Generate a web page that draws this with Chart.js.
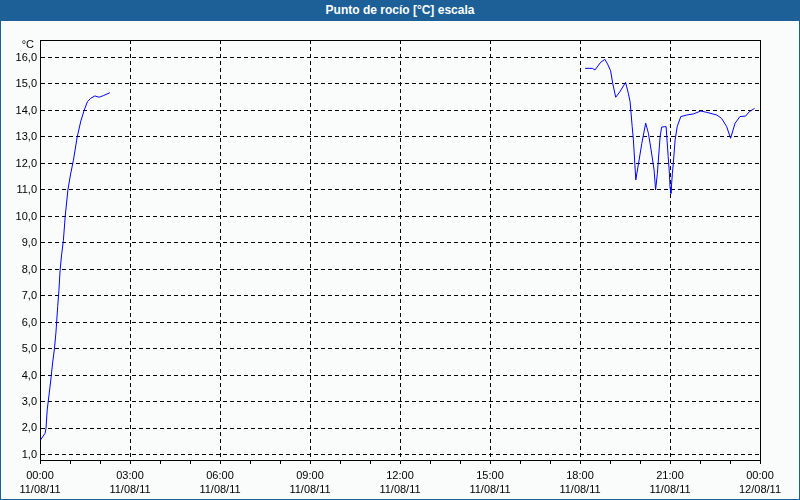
<!DOCTYPE html>
<html>
<head>
<meta charset="utf-8">
<script src="https://cdn.jsdelivr.net/npm/chart.js@4/dist/chart.umd.min.js"></script>
<style>
  html, body { margin: 0; padding: 0; background: #fafcfc; }
  #wrap { width: 800px; height: 500px; box-sizing: border-box; border: 1px solid #1d5f97; border-top: none; background: #fafcfc; }
  #title { height: 21px; margin: 0 -1px; background: #1d5f97; color: #fff; font: bold 12px "Liberation Sans", Arial, sans-serif; text-align: center; line-height: 21px; }
  #box { position: relative; width: 798px; height: 478px; }
</style>
</head>
<body>
<div id="wrap">
  <div id="title">Punto de rocío [°C] escala</div>
  <div id="box"><canvas id="c"></canvas></div>
</div>
<script>
// Hours since 11/08/11 00:00
const hours1 = [0.02, 0.17, 0.2, 0.24, 0.3, 0.36, 0.42, 0.48, 0.53, 0.59, 0.63, 0.67, 0.72, 0.78, 0.84, 0.93, 1.02, 1.11, 1.24, 1.36, 1.47, 1.58, 1.69, 1.83, 1.97, 2.11, 2.33];
const dew1   = [1.57, 1.82, 2.0, 2.7, 3.26, 3.83, 4.47, 5.0, 5.6, 6.6, 7.2, 7.98, 8.55, 9.1, 10.0, 11.0, 11.6, 12.1, 13.0, 13.6, 14.0, 14.33, 14.46, 14.55, 14.5, 14.56, 14.67];
const hours2 = [18.17, 18.41, 18.5, 18.69, 18.83, 18.92, 19.02, 19.09, 19.19, 19.33, 19.52, 19.61, 19.67, 19.74, 19.78, 19.86, 19.97, 20.06, 20.19, 20.28, 20.37, 20.47, 20.52, 20.58, 20.67, 20.72, 20.83, 20.87, 20.94, 20.98, 21.0, 21.03, 21.08, 21.11, 21.17, 21.24, 21.36, 21.56, 21.78, 22.03, 22.22, 22.56, 22.72, 22.89, 23.02, 23.17, 23.33, 23.52, 23.64, 23.82];
const dew2   = [15.59, 15.59, 15.53, 15.82, 15.93, 15.75, 15.5, 15.03, 14.5, 14.71, 15.06, 14.65, 14.33, 13.39, 12.89, 11.38, 12.13, 12.76, 13.52, 13.14, 12.51, 11.75, 11.0, 11.63, 13.01, 13.37, 13.39, 13.39, 12.26, 11.63, 11.12, 10.87, 11.63, 12.0, 12.89, 13.39, 13.77, 13.83, 13.87, 13.98, 13.93, 13.83, 13.7, 13.39, 12.95, 13.52, 13.77, 13.79, 13.95, 14.08];

const yTicks = [1, 2, 3, 4, 5, 6, 7, 8, 9, 10, 11, 12, 13, 14, 15, 16];
const xTicks = [0,1,2,3,4,5,6,7,8,9,10,11,12,13,14,15,16,17,18,19,20,21,22,23,24];
const xLabelTimes = {0:'00:00', 3:'03:00', 6:'06:00', 9:'09:00', 12:'12:00', 15:'15:00', 18:'18:00', 21:'21:00', 24:'00:00'};
const xLabelDates = {0:'11/08/11', 3:'11/08/11', 6:'11/08/11', 9:'11/08/11', 12:'11/08/11', 15:'11/08/11', 18:'11/08/11', 21:'11/08/11', 24:'12/08/11'};
const yUnit = '°C';

const points = [];
hours1.forEach((h, i) => points.push({x: h, y: dew1[i]}));
points.push({x: (hours1[hours1.length-1] + hours2[0]) / 2, y: null});
hours2.forEach((h, i) => points.push({x: h, y: dew2[i]}));

const FONT = '"Liberation Sans", Arial, sans-serif';

const framePlugin = {
  id: 'frame',
  afterDraw(chart) {
    const {ctx, chartArea: a} = chart;
    ctx.save();
    ctx.strokeStyle = '#000';
    ctx.lineWidth = 1;
    ctx.setLineDash([]);
    ctx.beginPath();
    ctx.moveTo(Math.round(a.left) + 0.5, Math.round(a.top) + 0.5);
    ctx.lineTo(Math.round(a.right) + 0.5, Math.round(a.top) + 0.5);
    ctx.lineTo(Math.round(a.right) + 0.5, Math.round(a.bottom) + 0.5);
    ctx.stroke();
    ctx.fillStyle = '#000';
    ctx.font = '11px ' + FONT;
    ctx.textAlign = 'right';
    ctx.textBaseline = 'middle';
    ctx.fillText(yUnit, a.left - 6, a.top + 5);
    ctx.restore();
  }
};

new Chart(document.getElementById('c'), {
  type: 'line',
  data: {
    datasets: [{
      data: points,
      borderColor: '#0000ff',
      borderWidth: 1,
      pointRadius: 0,
      tension: 0,
      spanGaps: false,
      fill: false
    }]
  },
  options: {
    responsive: true,
    maintainAspectRatio: false,
    animation: false,
    events: [],
    layout: { padding: { left: 0, right: 39, top: 19, bottom: 0 } },
    plugins: { legend: { display: false }, tooltip: { enabled: false }, title: { display: false } },
    scales: {
      x: {
        type: 'linear',
        min: 0, max: 24,
        afterBuildTicks: axis => { axis.ticks = xTicks.map(v => ({value: v})); },
        afterFit: axis => { axis.height = 39; },
        grid: {
          color: c => (c.tick && c.tick.value % 3 === 0) ? '#000' : 'rgba(0,0,0,0)',
          tickColor: '#000',
          tickLength: 4,
          tickBorderDash: [],
          lineWidth: 1
        },
        border: { display: true, color: '#000', width: 1, dash: [4, 3] },
        ticks: {
          autoSkip: false,
          maxRotation: 0,
          padding: 5,
          color: '#000',
          font: { family: FONT, size: 11, lineHeight: 1.3 },
          callback: v => xLabelTimes[v] !== undefined ? [xLabelTimes[v], xLabelDates[v]] : ''
        }
      },
      y: {
        type: 'linear',
        min: 0.81, max: 16.66,
        afterBuildTicks: axis => { axis.ticks = yTicks.map(v => ({value: v})); },
        afterFit: axis => { axis.width = 39; },
        grid: { color: '#000', drawTicks: false, lineWidth: 1 },
        border: { display: true, color: '#000', width: 1, dash: [4, 3] },
        ticks: {
          padding: 3,
          color: '#000',
          font: { family: FONT, size: 11 },
          callback: v => v.toFixed(1).replace('.', ',')
        }
      }
    }
  },
  plugins: [framePlugin]
});
</script>
</body>
</html>
